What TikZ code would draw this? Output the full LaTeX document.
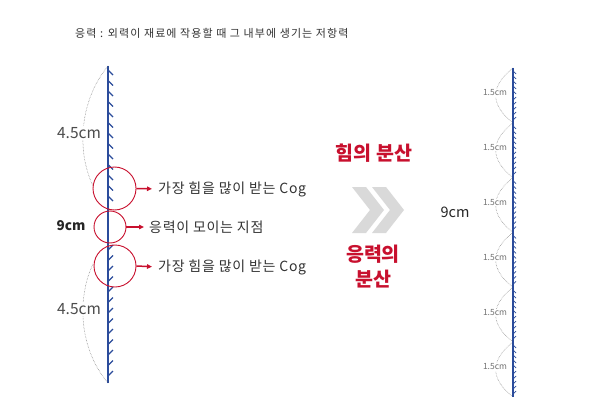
\documentclass[tikz,border=0pt]{standalone}
\usepackage{fontspec}
\setmainfont{Noto Sans CJK KR}
\newfontfamily\widefont[LetterSpace=5]{Noto Sans CJK KR}
\newfontfamily\titlefont[LetterSpace=10]{Noto Sans CJK KR}
\usetikzlibrary{arrows.meta}
\definecolor{barblue}{HTML}{2B4C9B}
\definecolor{cogred}{HTML}{C8102E}
\definecolor{chevgray}{HTML}{D9D9D9}
\tikzset{
	bar/.style={line width=2pt, color=barblue},
	tooth/.style={line width=1.4pt, color=barblue},
	minitooth/.style={line width=0.7pt, color=barblue},
	cog/.style={circle, draw=cogred, line width=0.9pt, inner sep=0pt},
	redarrow/.style={-{Triangle[length=5pt,width=4.5pt]}, line width=1.5pt, color=cogred},
	dim/.style={densely dotted, line width=0.5pt, color=black!55},
	lab/.style={anchor=west, inner sep=0pt, text=black!80, font=\widefont\fontsize{14}{16}\selectfont}
}

\begin{document}
\begin{tikzpicture}[x=1pt, y=-1pt]
		%%%%% START %%%%%
		\useasboundingbox[fill=white] (0, 0) rectangle (601, 406);
		
		\node[anchor=west, inner sep=0pt, text=black!80, font=\titlefont\fontsize{11}{13}\selectfont] (title) at (75, 33) {응력 : 외력이 재료에 작용할 때 그 내부에 생기는 저항력};
		
		% left bar
		\coordinate (barTop) at (108, 66);
		\coordinate (barBot) at (108, 383);
		\foreach \y in {70, 80.5, ..., 206} \draw[tooth] (108, \y) -- ++(5, 5);
		\foreach \y in {250, 260.5, ..., 382} \draw[tooth] (108, \y) -- ++(5, -5);
		\draw[bar] (barTop) -- (barBot);
		
		\draw[dim] (barTop) .. controls (80, 100) and (76, 150) .. (93, 186);
		\draw[dim] (93, 264) .. controls (76, 300) and (80, 350) .. (barBot);
		\node[fill=white, inner sep=1pt, text=black!70, font=\fontsize{15.5}{17}\selectfont] (upLen) at (79, 133) {4.5cm};
		\node[fill=white, inner sep=1pt, text=black!70, font=\fontsize{15.5}{17}\selectfont] (lowLen) at (79, 309) {4.5cm};
		\node[text=black!85, font=\fontsize{13.5}{15}\bfseries] (midLen) at (71, 226) {9cm};
		
		% cogs
		\node[cog, minimum size=43pt] (cogA) at (114.5, 188.5) {};
		\node[cog, minimum size=32pt] (cogB) at (110, 227) {};
		\node[cog, minimum size=42pt] (cogC) at (115, 266) {};
		
		\node[lab] (labA) at (158, 189) {가장 힘을 많이 받는 Cog};
		\node[lab] (labB) at (149, 227) {응력이 모이는 지점};
		\node[lab] (labC) at (158, 267) {가장 힘을 많이 받는 Cog};
		
		\draw[redarrow, shorten >=6pt] (cogA.east) -- (labA.west);
		\draw[redarrow, shorten >=5pt] (cogB.east) -- (labB.west);
		\draw[redarrow, shorten >=6pt] (cogC.east) -- (labC.west);
		
		% middle
		\node[text=cogred, font=\fontsize{19.5}{21}\bfseries] (force) at (374, 153) {힘의 분산};
		\fill[chevgray] (352, 187) -- (366, 187) -- (384, 210) -- (366, 233) -- (352, 233) -- (370, 210) -- cycle;
		\fill[chevgray] (372, 187) -- (386, 187) -- (404, 210) -- (386, 233) -- (372, 233) -- (390, 210) -- cycle;
		\node[text=cogred, font=\fontsize{19.5}{25}\bfseries, align=center] (stress) at (373, 267) {응력의\\분산};
		\node[text=black!85, font=\fontsize{14.5}{16}\selectfont] (total) at (455, 212) {9cm};
		
		% right bar
		\coordinate (rTop) at (513, 68);
		\coordinate (rBot) at (513, 397);
		\foreach \k in {0, ..., 5} {
			\pgfmathsetmacro\t{68 + 54.8*\k}
			\foreach \d in {3, 8, ..., 25} \draw[minitooth] (513, \t + \d) -- ++(3, 3);
			\foreach \d in {32, 37, ..., 54} \draw[minitooth] (513, \t + \d) -- ++(3, -3);
			\draw[dim] (513, \t) .. controls (490, \t + 18) and (490, \t + 37) .. (513, \t + 54.8);
			\node[fill=white, inner sep=0.5pt, text=black!55, font=\fontsize{8.5}{9}\selectfont] at (495, \t + 25) {1.5cm};
		}
		\draw[bar, line width=1.6pt] (rTop) -- (rBot);
		
		%%%%% END %%%%%
	\end{tikzpicture}
\end{document}
